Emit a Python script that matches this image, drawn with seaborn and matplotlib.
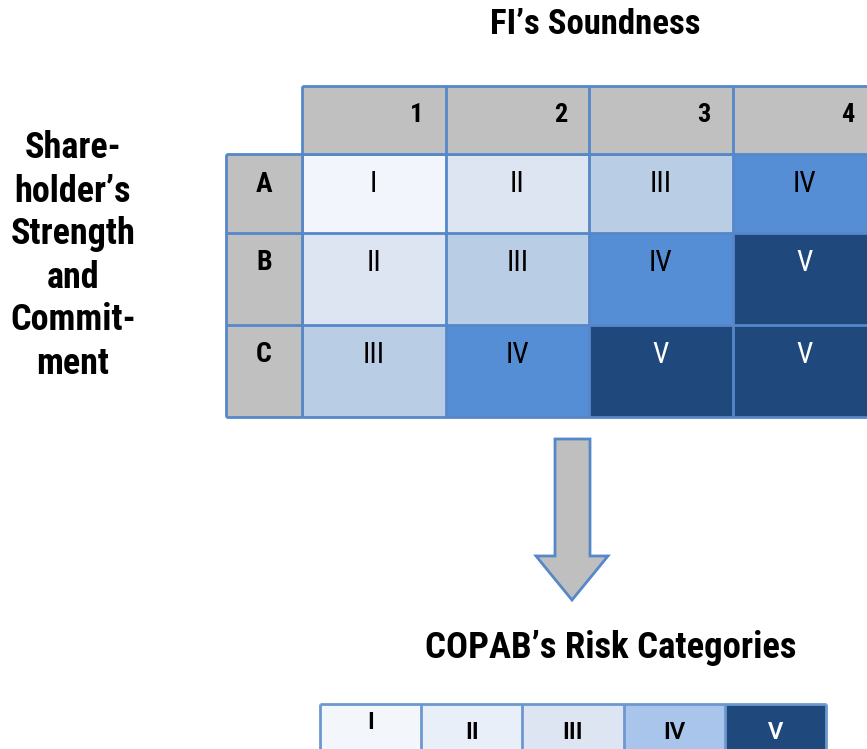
import numpy as np
import matplotlib
matplotlib.use('Agg')
import matplotlib.pyplot as plt
from matplotlib.colors import ListedColormap
import seaborn as sns

# data
soundness = ['1', '2', '3', '4']
strength = ['A', 'B', 'C']
categories = ['I', 'II', 'III', 'IV', 'V']
risk_matrix = [[1, 2, 3, 4],
               [2, 3, 4, 5],
               [3, 4, 5, 5]]
legend_levels = [1, 2, 3, 4, 5]

grid_colors = ['#F2F5FB', '#DCE5F1', '#B9CDE5', '#558ED5', '#1F497D']
legend_colors = ['#F3F6FB', '#E9EFF8', '#DCE5F1', '#A9C5EB', '#1F497D']
gray = '#C0C0C0'
edge = '#5587C9'

W, H = 867, 749
sns.set_theme(style='white')
plt.rcParams['font.family'] = ['Roboto Condensed', 'DejaVu Sans']
plt.rcParams['text.color'] = 'black'

fig = plt.figure(figsize=(W / 100, H / 100), dpi=100)


def box(x0, y0, x1, y1):
    # axes placed in pixel coords of the picture (top-left origin)
    return fig.add_axes([x0 / W, 1 - y1 / H, (x1 - x0) / W, (y1 - y0) / H])


bg = box(0, 0, W, H)
bg.set_xlim(0, W)
bg.set_ylim(H, 0)
bg.axis('off')

# titles
bg.text(595, 25, 'FI’s Soundness', ha='center', va='center', fontsize=25, fontweight='bold')
bg.text(73, 256, 'Share-\nholder’s\nStrength\nand\nCommit-\nment', ha='center', va='center',
        fontsize=26, fontweight='bold', linespacing=1.25)
bg.text(611, 648, 'COPAB’s Risk Categories', ha='center', va='center', fontsize=26.5, fontweight='bold')

# arrow
bg.fill([555, 590, 590, 608, 572, 536, 555, 555], [439, 439, 556, 556, 600, 556, 556, 439],
        facecolor='#BFBFBF', edgecolor=edge, lw=2)

# risk grid, rows of unequal height (6:7:7)
row_units = [6, 7, 7]
starts = np.concatenate([[0], np.cumsum(row_units)])
unit = (417 - 154) / starts[-1]
mat = np.repeat(np.array(risk_matrix), row_units, axis=0)

ax = box(302, 154, 876, 417)
sns.heatmap(mat, ax=ax, cmap=ListedColormap(grid_colors), vmin=0.5, vmax=5.5,
            cbar=False, xticklabels=False, yticklabels=False)
for i, row in enumerate(risk_matrix):
    for j, v in enumerate(row):
        ax.text(j + 0.5, starts[i] + 30 / unit, categories[v - 1], ha='center', va='center',
                fontsize=21, color='white' if v == 5 else 'black')
ax.hlines(starts, 0, 4, colors=edge, lw=2, clip_on=False)
ax.vlines(range(5), 0, starts[-1], colors=edge, lw=2, clip_on=False)

# header row
hx = box(302, 86, 876, 154)
sns.heatmap(np.zeros((1, 4)), ax=hx, cmap=ListedColormap([gray]), cbar=False,
            xticklabels=False, yticklabels=False)
for j, s in enumerate(soundness):
    hx.text(j + 1 - 22 / 143.5, 0.42, s, ha='right', va='center', fontsize=19, fontweight='bold')
hx.hlines([0, 1], 0, 4, colors=edge, lw=2, clip_on=False)
hx.vlines(range(5), 0, 1, colors=edge, lw=2, clip_on=False)

# row labels
lx = box(226, 154, 302, 417)
sns.heatmap(np.zeros((starts[-1], 1)), ax=lx, cmap=ListedColormap([gray]), cbar=False,
            xticklabels=False, yticklabels=False)
for i, s in enumerate(strength):
    lx.text(0.5, starts[i] + 30 / unit, s, ha='center', va='center', fontsize=20, fontweight='bold')
lx.hlines(starts, 0, 1, colors=edge, lw=2, clip_on=False)
lx.vlines([0, 1], 0, starts[-1], colors=edge, lw=2, clip_on=False)

# legend strip
gx = box(320, 704, 826, 760)
sns.heatmap(np.array([legend_levels]), ax=gx, cmap=ListedColormap(legend_colors), vmin=0.5, vmax=5.5,
            cbar=False, xticklabels=False, yticklabels=False)
for j, v in enumerate(legend_levels):
    gx.text(j + 0.5, 0.31 if j == 0 else 0.49, categories[v - 1], ha='center', va='center',
            fontsize=18.5, fontweight='bold', family=['Carlito', 'DejaVu Sans'],
            color='white' if v == 5 else 'black')
gx.hlines([0, 1], 0, 5, colors='#6C98D0', lw=2, clip_on=False)
gx.vlines(range(6), 0, 1, colors='#6C98D0', lw=2, clip_on=False)

fig.savefig('out.png', dpi=100)
